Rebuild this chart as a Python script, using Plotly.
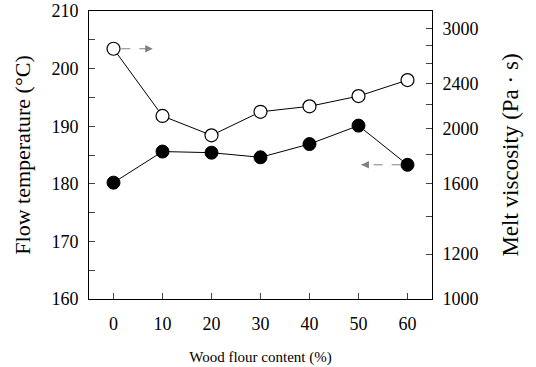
import numpy as np
import plotly.graph_objects as go

wood = [0, 10, 20, 30, 40, 50, 60]
flow_temp = [180.2, 185.6, 185.4, 184.6, 186.9, 190.1, 183.3]
melt_visc = [2763, 2103, 1944, 2139, 2187, 2280, 2433]

left_ticks = [160, 165, 170, 175, 180, 185, 190, 195, 200, 205, 210]
right_ticks = [1000, 1200, 1400, 1600, 1800, 2000, 2200, 2400, 2600, 2800, 3000]
right_labels = ["1000", "1200", "", "1600", "", "2000", "", "2400", "", "", "3000"]

FONT = "Liberation Serif"
LEFT_RANGE = [160, 210]
RIGHT_LOG_RANGE = [3, 3.508]


def right_to_left(v):
    # position of a right-axis (log) value expressed on the left axis
    f = (np.log10(v) - RIGHT_LOG_RANGE[0]) / (RIGHT_LOG_RANGE[1] - RIGHT_LOG_RANGE[0])
    return LEFT_RANGE[0] + f * (LEFT_RANGE[1] - LEFT_RANGE[0])


fig = go.Figure()
fig.add_trace(go.Scatter(
    x=wood, y=melt_visc, yaxis="y2", mode="lines+markers",
    line=dict(color="black", width=1),
    marker=dict(symbol="circle", size=13, color="white",
                line=dict(color="black", width=1.2)),
    showlegend=False))
fig.add_trace(go.Scatter(
    x=wood, y=flow_temp, yaxis="y", mode="lines+markers",
    line=dict(color="black", width=1),
    marker=dict(symbol="circle", size=13, color="black",
                line=dict(color="black", width=1)),
    showlegend=False))

# arrows (indicating which axis each series belongs to)
arrow_col = "#808080"
arrows = [
    (1.6, 8.0, right_to_left(melt_visc[0])),   # open circles -> right axis
    (58.6, 50.6, flow_temp[6]),                # filled circles -> left axis
]
for x_start, x_tip, yv in arrows:
    fig.add_shape(type="line", xref="x", yref="y",
                  x0=x_start, x1=x_tip, y0=yv, y1=yv,
                  line=dict(color=arrow_col, width=1, dash="dash"))
    direction = -1 if x_tip > x_start else 1
    fig.add_annotation(x=x_tip, y=yv, xref="x", yref="y",
                       ax=direction * 7, ay=0, showarrow=True, arrowhead=2,
                       arrowsize=1.5, arrowwidth=1, arrowcolor=arrow_col, text="")

fig.update_layout(
    width=536, height=367,
    margin=dict(l=89, r=104, t=11, b=68, autoexpand=False),
    paper_bgcolor="white", plot_bgcolor="white",
    font=dict(family=FONT, color="black", size=18),
    xaxis=dict(range=[-5, 65], tickvals=wood, ticks="inside", ticklen=6,
               showline=True, linecolor="black", linewidth=1, mirror=True,
               showgrid=False, zeroline=False, tickfont=dict(size=18),
               ticklabelstandoff=8, automargin=False,
               title=dict(text="Wood flour content (%)", font=dict(size=15), standoff=18)),
    yaxis=dict(range=LEFT_RANGE, tickvals=left_ticks,
               ticktext=[str(v) if v % 10 == 0 else "" for v in left_ticks],
               ticks="inside", ticklen=6, showline=True, linecolor="black", linewidth=1,
               showgrid=False, zeroline=False, tickfont=dict(size=18),
               ticklabelstandoff=6, automargin=False,
               title=dict(text="Flow temperature (°C)", font=dict(size=22), standoff=14)),
    yaxis2=dict(type="log", range=RIGHT_LOG_RANGE, overlaying="y", side="right",
                tickvals=right_ticks, ticktext=right_labels,
                ticks="inside", ticklen=6, showline=True, linecolor="black", linewidth=1,
                showgrid=False, zeroline=False, tickfont=dict(size=18),
                ticklabelstandoff=6, automargin=False,
                title=dict(text="Melt viscosity (Pa · s)", font=dict(size=23), standoff=24)),
)

fig.write_html("out.html")
